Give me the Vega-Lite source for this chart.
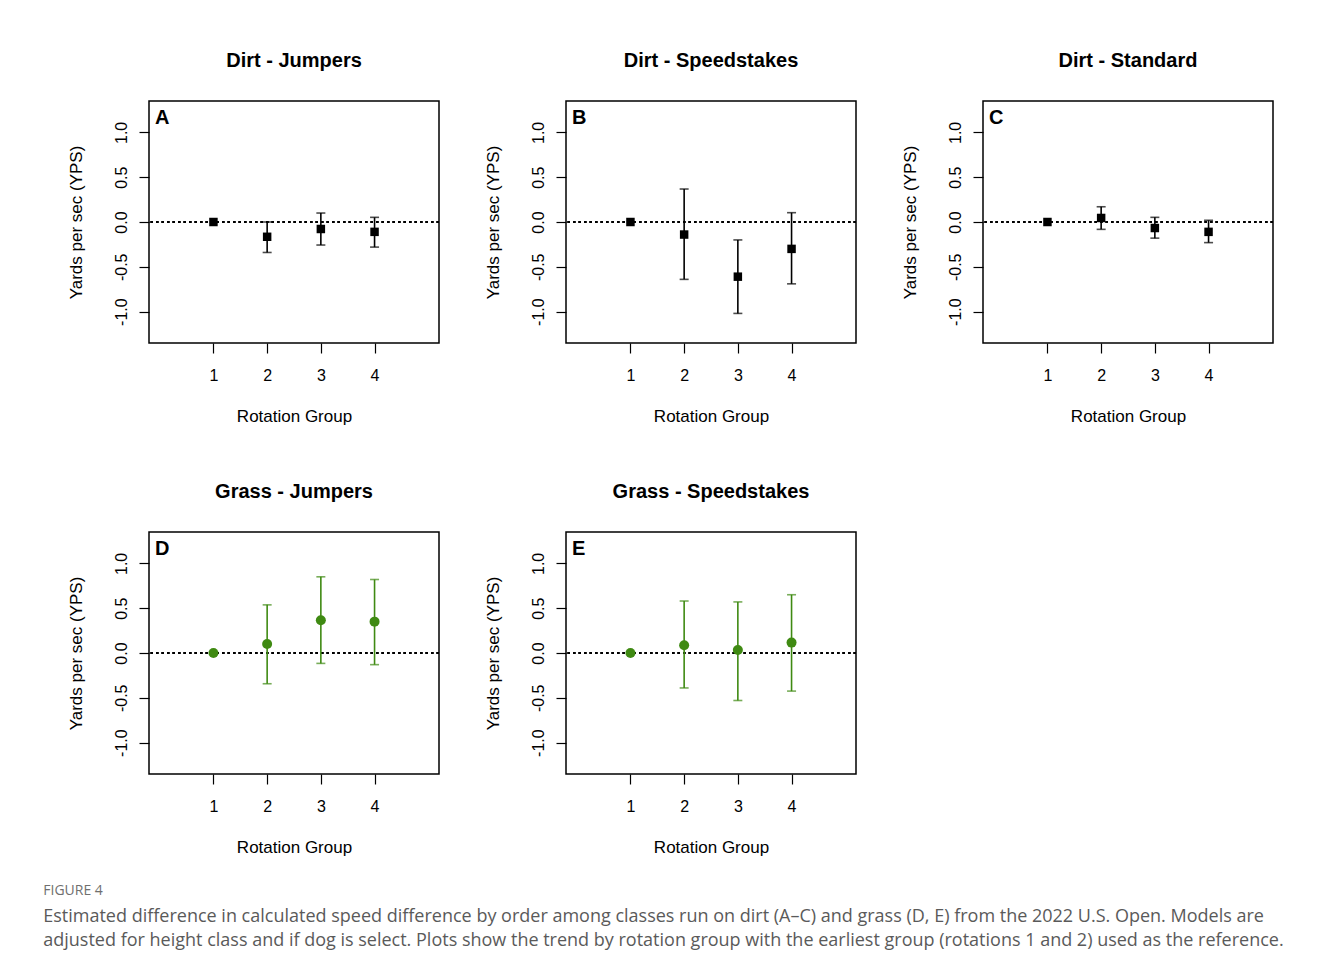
{
  "$schema": "https://vega.github.io/schema/vega-lite/v6.json",
  "padding": {"top": 50, "left": 43, "right": 5, "bottom": 5},
  "background": "white",
  "title": {
    "text": "FIGURE 4",
    "subtitle": [
      "Estimated difference in calculated speed difference by order among classes run on dirt (A–C) and grass (D, E) from the 2022 U.S. Open. Models are",
      "adjusted for height class and if dog is select. Plots show the trend by rotation group with the earliest group (rotations 1 and 2) used as the reference."
    ],
    "orient": "bottom",
    "anchor": "start",
    "frame": "bounds",
    "dx": -23,
    "offset": 28,
    "font": "Open Sans",
    "fontSize": 14,
    "fontWeight": "normal",
    "color": "#6f6f6f",
    "subtitleFont": "Open Sans",
    "subtitleFontSize": 18,
    "subtitleColor": "#5a5a5a",
    "subtitleLineHeight": 24,
    "subtitlePadding": 10
  },
  "data": {
    "values": [
      {"panel": "Dirt - Jumpers", "letter": "A", "surface": "Dirt", "rot": 1, "est": 0, "lo": null, "hi": null},
      {"panel": "Dirt - Jumpers", "letter": "A", "surface": "Dirt", "rot": 2, "est": -0.165, "lo": -0.34, "hi": 0.0},
      {"panel": "Dirt - Jumpers", "letter": "A", "surface": "Dirt", "rot": 3, "est": -0.078, "lo": -0.257, "hi": 0.10},
      {"panel": "Dirt - Jumpers", "letter": "A", "surface": "Dirt", "rot": 4, "est": -0.11, "lo": -0.28, "hi": 0.052},
      {"panel": "Dirt - Speedstakes", "letter": "B", "surface": "Dirt", "rot": 1, "est": 0, "lo": null, "hi": null},
      {"panel": "Dirt - Speedstakes", "letter": "B", "surface": "Dirt", "rot": 2, "est": -0.14, "lo": -0.64, "hi": 0.368},
      {"panel": "Dirt - Speedstakes", "letter": "B", "surface": "Dirt", "rot": 3, "est": -0.61, "lo": -1.02, "hi": -0.20},
      {"panel": "Dirt - Speedstakes", "letter": "B", "surface": "Dirt", "rot": 4, "est": -0.30, "lo": -0.69, "hi": 0.104},
      {"panel": "Dirt - Standard", "letter": "C", "surface": "Dirt", "rot": 1, "est": 0, "lo": null, "hi": null},
      {"panel": "Dirt - Standard", "letter": "C", "surface": "Dirt", "rot": 2, "est": 0.045, "lo": -0.082, "hi": 0.17},
      {"panel": "Dirt - Standard", "letter": "C", "surface": "Dirt", "rot": 3, "est": -0.067, "lo": -0.18, "hi": 0.052},
      {"panel": "Dirt - Standard", "letter": "C", "surface": "Dirt", "rot": 4, "est": -0.11, "lo": -0.23, "hi": 0.019},
      {"panel": "Grass - Jumpers", "letter": "D", "surface": "Grass", "rot": 1, "est": 0, "lo": null, "hi": null},
      {"panel": "Grass - Jumpers", "letter": "D", "surface": "Grass", "rot": 2, "est": 0.10, "lo": -0.343, "hi": 0.537},
      {"panel": "Grass - Jumpers", "letter": "D", "surface": "Grass", "rot": 3, "est": 0.366, "lo": -0.116, "hi": 0.85},
      {"panel": "Grass - Jumpers", "letter": "D", "surface": "Grass", "rot": 4, "est": 0.35, "lo": -0.13, "hi": 0.82},
      {"panel": "Grass - Speedstakes", "letter": "E", "surface": "Grass", "rot": 1, "est": 0, "lo": null, "hi": null},
      {"panel": "Grass - Speedstakes", "letter": "E", "surface": "Grass", "rot": 2, "est": 0.086, "lo": -0.39, "hi": 0.58},
      {"panel": "Grass - Speedstakes", "letter": "E", "surface": "Grass", "rot": 3, "est": 0.034, "lo": -0.53, "hi": 0.57},
      {"panel": "Grass - Speedstakes", "letter": "E", "surface": "Grass", "rot": 4, "est": 0.116, "lo": -0.425, "hi": 0.65}
    ]
  },
  "facet": {
    "field": "panel",
    "type": "nominal",
    "sort": ["Dirt - Jumpers", "Dirt - Speedstakes", "Dirt - Standard", "Grass - Jumpers", "Grass - Speedstakes"],
    "header": {
      "title": null,
      "labelFont": "Liberation Sans",
      "labelFontSize": 20,
      "labelFontWeight": "bold",
      "labelColor": "black",
      "labelPadding": 30
    }
  },
  "columns": 3,
  "spacing": {"column": 42, "row": 56},
  "resolve": {"axis": {"x": "independent", "y": "independent"}},
  "spec": {
    "width": 290,
    "height": 242,
    "encoding": {
      "x": {
        "field": "rot",
        "type": "quantitative",
        "scale": {"domain": [-0.2, 5.2], "nice": false, "zero": false},
        "axis": {
          "title": "Rotation Group",
          "values": [1, 2, 3, 4],
          "format": "d",
          "grid": false,
          "domain": false,
          "tickSize": 10,
          "tickColor": "black",
          "tickWidth": 1.2,
          "labelFont": "Liberation Sans",
          "labelFontSize": 16,
          "labelColor": "black",
          "labelPadding": 14,
          "titleFont": "Liberation Sans",
          "titleFontSize": 17,
          "titleFontWeight": "normal",
          "titleColor": "black",
          "titlePadding": 25
        }
      }
    },
    "layer": [
      {
        "mark": {"type": "rule", "strokeDash": [2.5, 3], "color": "black", "strokeWidth": 1.3},
        "encoding": {"y": {"datum": 0, "type": "quantitative", "scale": {"domain": [-1.35, 1.35], "nice": false, "zero": false}}, "x": null}
      },
      {
        "mark": {"type": "rule", "strokeWidth": 1.6},
        "encoding": {
          "y": {"field": "lo", "type": "quantitative"},
          "y2": {"field": "hi"},
          "color": {"field": "surface", "type": "nominal", "scale": {"domain": ["Dirt", "Grass"], "range": ["#000000", "#3f8a12"]}, "legend": null}
        }
      },
      {
        "mark": {"type": "tick", "orient": "horizontal", "size": 9, "thickness": 1.6},
        "encoding": {
          "y": {"field": "lo", "type": "quantitative"},
          "color": {"field": "surface", "type": "nominal", "legend": null}
        }
      },
      {
        "mark": {"type": "tick", "orient": "horizontal", "size": 9, "thickness": 1.6},
        "encoding": {
          "y": {"field": "hi", "type": "quantitative"},
          "color": {"field": "surface", "type": "nominal", "legend": null}
        }
      },
      {
        "mark": {"type": "point", "filled": true, "opacity": 1},
        "encoding": {
          "y": {
            "field": "est",
            "type": "quantitative",
            "axis": {
              "title": "Yards per sec (YPS)",
              "values": [-1, -0.5, 0, 0.5, 1],
              "labelExpr": "replace(format(datum.value, '.1f'), '\u2212', '-')",
              "grid": false,
              "domain": false,
              "tickSize": 10,
              "tickColor": "black",
              "tickWidth": 1.2,
              "labelAngle": 270,
              "labelAlign": "center",
              "labelBaseline": "bottom",
              "labelFont": "Liberation Sans",
              "labelFontSize": 16,
              "labelColor": "black",
              "labelPadding": 10,
              "titleFont": "Liberation Sans",
              "titleFontSize": 17,
              "titleFontWeight": "normal",
              "titleColor": "black",
              "titlePadding": 28
            }
          },
          "color": {"field": "surface", "type": "nominal", "legend": null},
          "shape": {"field": "surface", "type": "nominal", "scale": {"domain": ["Dirt", "Grass"], "range": ["square", "circle"]}, "legend": null},
          "size": {"field": "surface", "type": "nominal", "scale": {"domain": ["Dirt", "Grass"], "range": [72, 100]}, "legend": null}
        }
      },
      {
        "transform": [{"filter": "datum.rot == 1"}],
        "mark": {"type": "text", "align": "left", "baseline": "top", "dx": 6, "dy": 7, "font": "Liberation Sans", "fontSize": 20, "fontWeight": "bold", "color": "black"},
        "encoding": {
          "x": {"datum": -0.2, "type": "quantitative"},
          "y": {"datum": 1.35, "type": "quantitative"},
          "text": {"field": "letter"}
        }
      }
    ]
  },
  "config": {
    "view": {"stroke": "black", "strokeWidth": 1.5},
    "axis": {"labelFlush": false}
  }
}
